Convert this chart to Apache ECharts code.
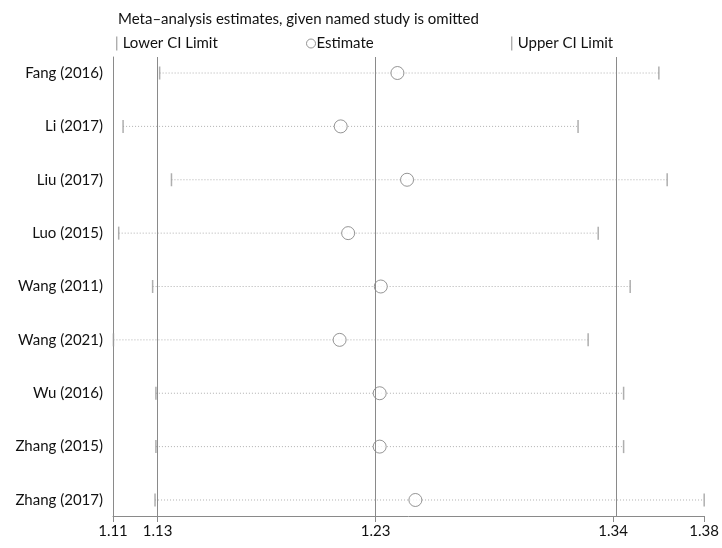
<!DOCTYPE html>
<html>
<head>
<meta charset="utf-8">
<script src="https://cdn.jsdelivr.net/npm/echarts@6/dist/echarts.min.js"></script>
<style>html,body{margin:0;padding:0;background:#fff}#c{width:722px;height:548px}</style>
</head>
<body>
<div id="c"></div>
<script>
var studies = ['Fang (2016)','Li (2017)','Liu (2017)','Luo (2015)','Wang (2011)','Wang (2021)','Wu (2016)','Zhang (2015)','Zhang (2017)'];
var lowerCI = [1.1313, 1.1146, 1.1367, 1.1126, 1.1281, 1.1102, 1.1296, 1.1296, 1.1292];
var estimate = [1.2399, 1.2140, 1.2443, 1.2174, 1.2323, 1.2135, 1.2318, 1.2318, 1.2481];
var upperCI = [1.3593, 1.3224, 1.3631, 1.3316, 1.3462, 1.3270, 1.3432, 1.3432, 1.3800];
var overall = [1.1304, 1.2299, 1.3384];
var xTicks = [1.11, 1.1304, 1.2299, 1.3384, 1.38];
var xMin = 1.11, xMax = 1.38;

var FONT = 'Lato';
var TXT = '#111';
var idx = studies.map(function(_, i){ return i; });
var rangeData = idx.map(function(i){ return [lowerCI[i], upperCI[i], i]; });
var lowData = idx.map(function(i){ return [lowerCI[i], i]; });
var estData = idx.map(function(i){ return [estimate[i], i]; });
var upData = idx.map(function(i){ return [upperCI[i], i]; });

var chart = echarts.init(document.getElementById('c'), null, {renderer:'canvas'});
var barIcon = 'path://M0,0L1,0L1,10L0,10Z';
chart.setOption({
  animation: false,
  backgroundColor: '#fff',
  title: {
    text: 'Meta\u2013analysis estimates, given named study is omitted',
    left: 113, top: 7,
    textStyle: {fontFamily: FONT, fontSize: 15, fontWeight: 'normal', color: TXT}
  },
  legend: [
    {data:['Lower CI Limit'], left: 111, top: 31, selectedMode: false, icon: barIcon, itemWidth: 2, itemHeight: 14,
     textStyle:{fontFamily: FONT, fontSize: 15, color: TXT, padding:[0,0,0,0]}},
    {data:['Estimate'], left: 301, top: 31, selectedMode: false, icon: 'circle', itemWidth: 9, itemHeight: 9,
     itemStyle: {color: '#ffffff', borderColor: '#7a7a7a', borderWidth: 1},
     textStyle:{fontFamily: FONT, fontSize: 15, color: TXT, padding:[0,0,0,-4]}},
    {data:['Upper CI Limit'], left: 506, top: 31, selectedMode: false, icon: barIcon, itemWidth: 2, itemHeight: 14,
     textStyle:{fontFamily: FONT, fontSize: 15, color: TXT, padding:[0,0,0,0]}}
  ],
  grid: {left: 113, right: 17, top: 57, bottom: 32, containLabel: false},
  xAxis: {
    type: 'value', min: xMin, max: xMax,
    axisLine: {show: true, onZero: false, lineStyle: {color: '#8a8a8a', width: 1}},
    axisTick: {show: true, length: 6, customValues: xTicks, lineStyle: {color: '#8a8a8a'}},
    axisLabel: {customValues: xTicks, formatter: function(v){ return v.toFixed(2); },
                fontFamily: FONT, fontSize: 15, color: TXT, margin: 8},
    splitLine: {show: false}
  },
  yAxis: {
    type: 'value', inverse: true, min: -0.3, max: 8.3,
    axisLine: {show: true, onZero: false, lineStyle: {color: '#8a8a8a', width: 1}},
    axisTick: {show: false},
    axisLabel: {customValues: idx, formatter: function(v){ return studies[Math.round(v)] || ''; },
                fontFamily: FONT, fontSize: 15, color: TXT, margin: 10},
    splitLine: {show: false}
  },
  series: [
    {
      type: 'custom', name: 'range', silent: true,
      data: rangeData,
      encode: {x: [0, 1], y: 2},
      renderItem: function(params, api){
        var p1 = api.coord([api.value(0), api.value(2)]);
        var p2 = api.coord([api.value(1), api.value(2)]);
        return {type: 'line', shape: {x1: p1[0], y1: p1[1], x2: p2[0], y2: p2[1]},
                style: {stroke: '#b0b0b0', lineWidth: 1, lineDash: [1, 2]}};
      },
      markLine: {
        silent: true, symbol: ['none','none'], label: {show: false},
        lineStyle: {color: '#8a8a8a', type: 'solid', width: 1},
        data: overall.map(function(v){ return {xAxis: v}; })
      },
      z: 2
    },
    {type: 'scatter', name: 'Lower CI Limit', data: lowData, symbol: 'rect', symbolSize: [1.5, 13],
     itemStyle: {color: '#9a9a9a'}, z: 3},
    {type: 'scatter', name: 'Upper CI Limit', data: upData, symbol: 'rect', symbolSize: [1.5, 13],
     itemStyle: {color: '#9a9a9a'}, z: 3},
    {type: 'scatter', name: 'Estimate', data: estData, symbol: 'circle', symbolSize: 13,
     itemStyle: {color: '#ffffff', borderColor: '#7a7a7a', borderWidth: 1}, z: 4}
  ]
});
</script>
</body>
</html>
